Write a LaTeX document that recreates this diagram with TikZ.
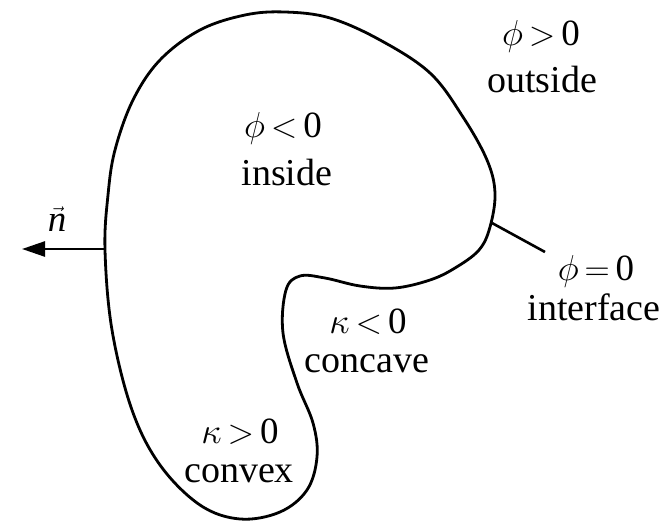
\documentclass[tikz,border=0pt]{standalone}
\usepackage{graphicx}
\usepackage{fontspec}
\setmainfont{Liberation Serif}
\usetikzlibrary{arrows.meta}
\newcommand\myphi{\scalebox{1.45}{$\phi$}}
\newcommand\mykappa{\scalebox{1.45}{$\kappa$}}
\newcommand\myrel[1]{\hspace{0.16em}\scalebox{1.4}{$#1$}\hspace{0.16em}}
\begin{document}
\begin{tikzpicture}[x=1pt,y=-1pt,
  txt/.style={font=\fontsize{38}{40}\selectfont, inner sep=0pt, anchor=base},
  mth/.style={font=\fontsize{37}{40}\selectfont, inner sep=0pt, anchor=base},
  outline/.style={line width=2.8pt, line join=round},
  conn/.style={line width=2.6pt}]
\useasboundingbox (0,0) rectangle (672,522);
\draw[outline] plot[smooth cycle, tension=0.6] coordinates {
 (105,250) (108,195) (115,150) (133,100) (160,60) (200,30) (245,15) (285,12)
 (330,18) (380,40) (430,73) (463,117) (487,160) (495,193) (490,227)
 (479,250) (455,268) (430,280) (395,288) (360,286) (325,278) (300,276)
 (286,290) (283,333) (297,383) (313,423) (317,457) (307,490) (280,512)
 (240,519) (200,505) (160,465) (132,410) (112,330)};
\coordinate (nbase) at (105,249);
\coordinate (ntip) at (22,249);
\coordinate (ifc) at (492,223);
\coordinate (ifend) at (545,252);
\draw[conn, -{Triangle[length=23pt,width=15pt]}] (nbase) -- (ntip);
\draw[conn] (ifc) -- (ifend);
\node[mth] (nvec) at (57,231) {$\vec{\mbox{\itshape n}}$};
\node[mth] (phipos) at (541,45) {\myphi\myrel{>}0};
\node[txt] (outside) at (542,92) {outside};
\node[mth] (phineg) at (283,137) {\myphi\myrel{<}0};
\node[txt] (inside) at (287,185) {inside};
\node[mth] (phizero) at (596,280) {\myphi\myrel{=}0};
\node[txt] (iface) at (594,320) {interface};
\node[mth] (kneg) at (368,333) {\mykappa\myrel{<}0};
\node[txt] (concave) at (367,372) {concave};
\node[mth] (kpos) at (240,443) {\mykappa\myrel{>}0};
\node[txt] (convex) at (239,482) {convex};
\end{tikzpicture}
\end{document}
